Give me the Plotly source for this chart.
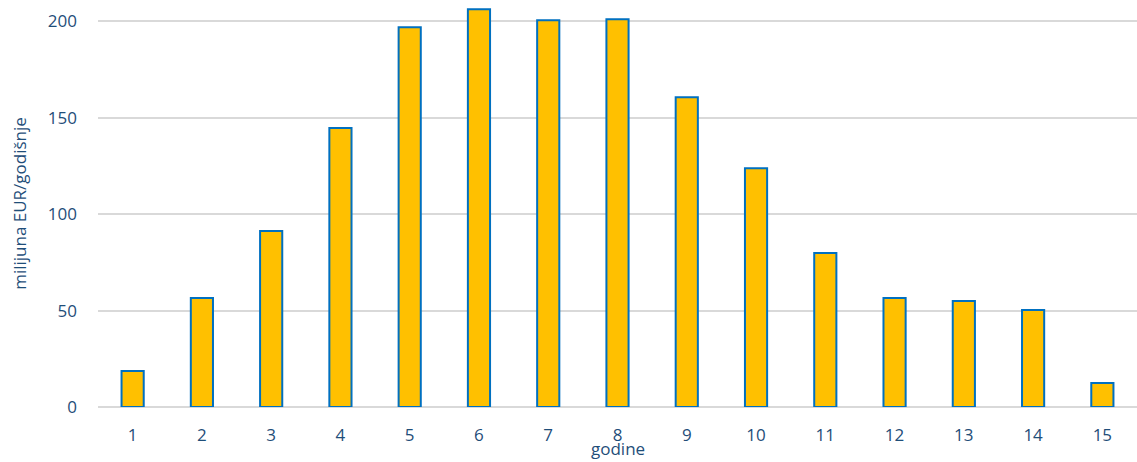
import plotly.graph_objects as go

years = [str(i) for i in range(1, 16)]
values = [18.6, 56.5, 91.2, 144.6, 196.9, 206.2, 200.5, 201.0, 160.6, 123.8, 79.8, 56.5, 54.9, 50.3, 12.4]
y_ticks = [0, 50, 100, 150, 200]

font_color = "#1F4E79"
fig = go.Figure(go.Bar(
    x=years, y=values,
    marker=dict(color="#FFC000", line=dict(color="#0070C0", width=2)),
))
fig.update_layout(
    width=1137, height=462,
    margin=dict(l=98, r=0, t=0, b=55),
    plot_bgcolor="white", paper_bgcolor="white",
    bargap=0.68,
    showlegend=False,
    font=dict(family="Open Sans, Noto Sans, sans-serif", color=font_color, size=17),
    annotations=[dict(text="godine", xref="paper", yref="paper", x=0.5, y=-0.103,
                      xanchor="center", yanchor="middle", showarrow=False,
                      font=dict(size=17, color=font_color))],
)
fig.update_xaxes(
    type="category", showgrid=False, showline=False, ticks="",
    tickfont=dict(size=17, color=font_color), ticklabelstandoff=16,
)
fig.update_yaxes(
    range=[0, 211], tickvals=y_ticks, showgrid=True, gridcolor="#D9D9D9", gridwidth=2,
    zeroline=True, zerolinecolor="#D9D9D9", zerolinewidth=2,
    tickfont=dict(size=17, color=font_color), ticks="", ticklabelstandoff=20,
    title=dict(text="milijuna EUR/godišnje", font=dict(size=17, color=font_color), standoff=16),
)
fig.write_html("out.html", config={"displayModeBar": False},
               post_script="document.body.style.margin='0';")
